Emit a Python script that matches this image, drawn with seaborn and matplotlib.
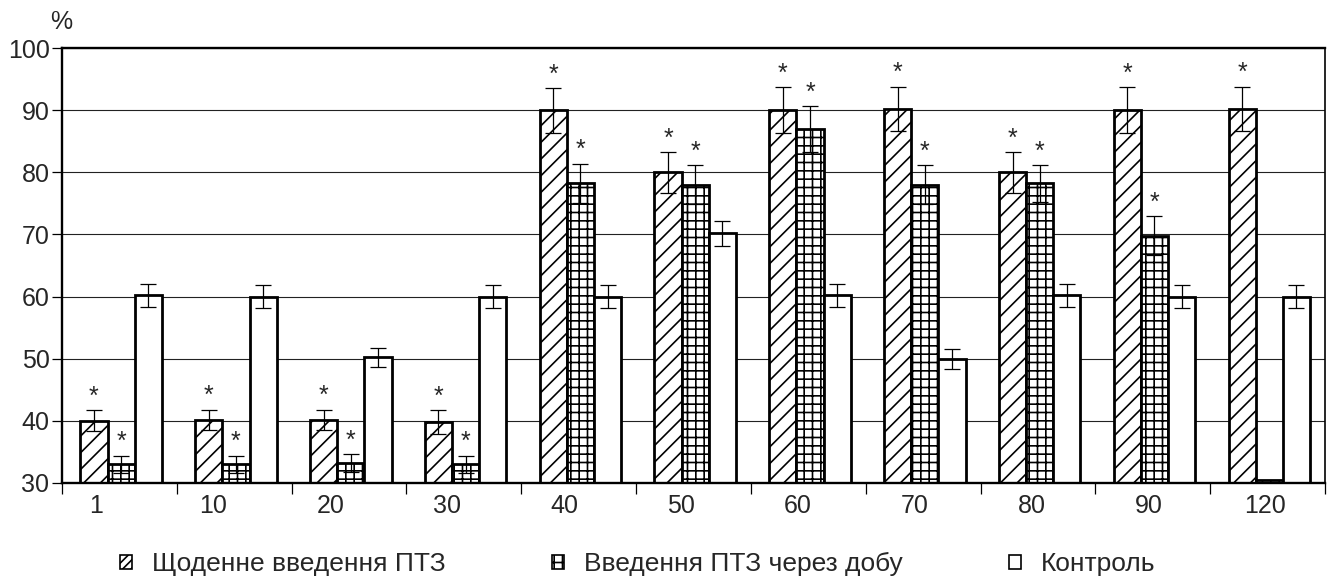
import numpy as np
import pandas as pd
import matplotlib
matplotlib.use('Agg')
import matplotlib.pyplot as plt
from matplotlib.patches import Patch
import seaborn as sns

# Дані з рисунка
days = ['1', '10', '20', '30', '40', '50', '60', '70', '80', '90', '120']
daily = [40, 40.2, 40.2, 39.8, 90, 80, 90, 90.2, 80, 90, 90.2]
daily_err = [1.7, 1.6, 1.6, 1.9, 3.6, 3.3, 3.7, 3.6, 3.3, 3.7, 3.6]
alt = [33, 33, 33.2, 33, 78.2, 78, 87, 78, 78.2, 69.8, 30.5]
alt_err = [1.4, 1.4, 1.4, 1.4, 3.2, 3.1, 3.7, 3.1, 3.0, 3.1, 0]
control = [60.2, 60, 50.2, 60, 60, 70.2, 60.2, 50, 60.2, 60, 60]
control_err = [1.8, 1.8, 1.6, 1.8, 1.8, 2.0, 1.8, 1.6, 1.8, 1.8, 1.8]
daily_star = [True] * 11
alt_star = [True] * 10 + [False]
control_star = [False] * 11

series = ['Щоденне введення ПТЗ', 'Введення ПТЗ через добу', 'Контроль']

df = pd.DataFrame({
    'day': days * 3,
    'value': daily + alt + control,
    'series': [series[0]] * 11 + [series[1]] * 11 + [series[2]] * 11,
})

sns.set_style('white')
plt.rcParams['font.family'] = ['Liberation Sans', 'DejaVu Sans']
plt.rcParams['hatch.linewidth'] = 1.2
plt.rcParams['hatch.color'] = 'black'

fig = plt.figure(figsize=(13.3, 5.79), dpi=100)
ax = fig.add_axes([62 / 1330, 96 / 579, 1263 / 1330, 435 / 579])

sns.barplot(data=df, x='day', y='value', hue='series', order=days,
            palette=['white'] * 3, edgecolor='black', linewidth=2.0,
            width=0.71, legend=False, ax=ax, zorder=2)

hatches = ['//', '++', '']
errs = [daily_err, alt_err, control_err]
stars = [daily_star, alt_star, control_star]
vals = [daily, alt, control]
for cont, h, e, st, v in zip(ax.containers, hatches, errs, stars, vals):
    for bar, err, s, val in zip(cont, e, st, v):
        bar.set_hatch(h)
        x = bar.get_x() + bar.get_width() / 2
        if err > 0:
            ax.errorbar(x, val, yerr=err, fmt='none', ecolor='black',
                        elinewidth=0.9, capsize=6, capthick=0.9, zorder=3)
        if s:
            ax.annotate('*', xy=(x, val + err), xytext=(0, 1),
                        textcoords='offset points', ha='center', va='bottom',
                        fontsize=18, zorder=4)

# осі
ax.set_ylim(30, 100)
ax.set_yticks(np.arange(30, 101, 10))
ax.set_xlim(-0.515, 10.485)
bounds = np.arange(12) - 0.515
ax.set_xticks(bounds, labels=[''] * 12)
idx = np.arange(11)
ax.set_xticks(idx - 0.015 - 0.2 + 0.018 * idx, labels=days, minor=True)
ax.tick_params(axis='x', which='major', direction='out', length=8, width=0.9,
               bottom=True, color='black')
ax.tick_params(axis='x', which='minor', length=0, pad=8, labelsize=18)
ax.tick_params(axis='y', direction='out', length=7, width=0.9, left=True,
               pad=2, labelsize=18, color='black')
ax.set_xlabel('')
ax.set_ylabel('')
ax.grid(axis='y', color='#222222', linewidth=0.8, zorder=0)
ax.set_axisbelow(True)
for side in ['left', 'bottom', 'top']:
    ax.spines[side].set_linewidth(1.7)
    ax.spines[side].set_color('black')
ax.spines['right'].set_linewidth(1.2)
ax.spines['right'].set_color('black')

fig.text(61 / 1330, 1 - 22 / 579, '%', ha='center', va='center', fontsize=18)

handles = [Patch(facecolor='white', edgecolor='black', hatch=h, linewidth=1.2)
           for h in ['////', '++', '']]
fig.legend(handles, series, ncol=3, frameon=False, loc='center left',
           bbox_to_anchor=(120 / 1330, 1 - 564 / 579), fontsize=19,
           handlelength=0.45, handleheight=0.45, handletextpad=0.75,
           columnspacing=4.05, borderpad=0, borderaxespad=0)

fig.savefig('out.png', dpi=100)
